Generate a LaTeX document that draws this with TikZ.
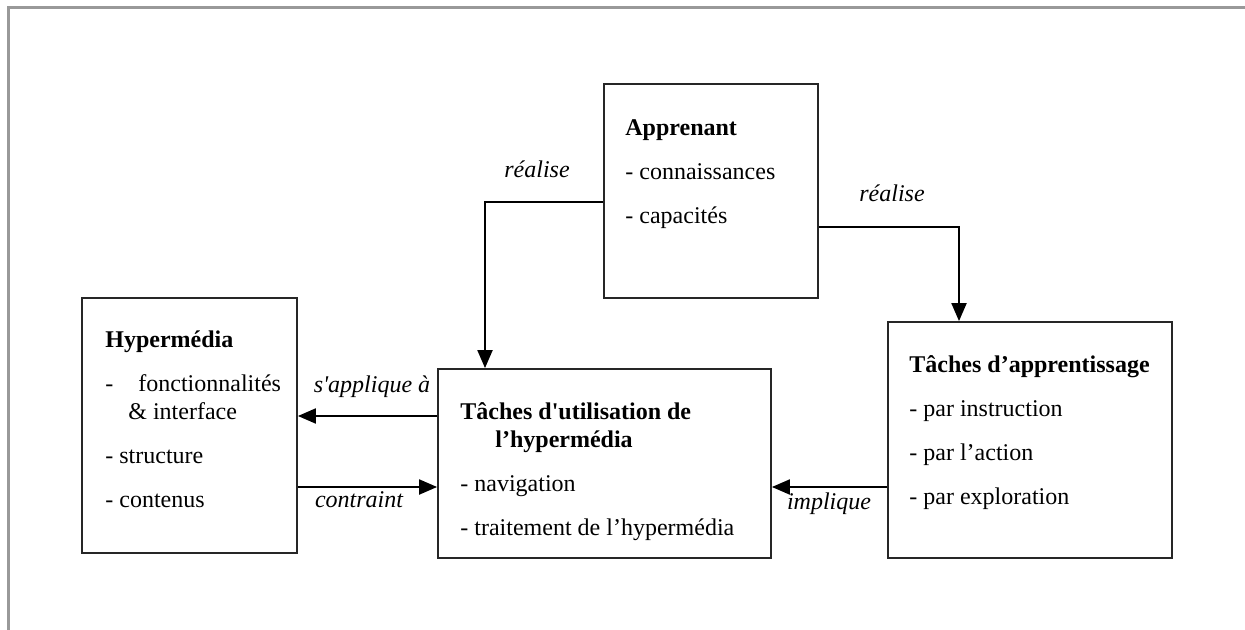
\documentclass[tikz,border=0pt]{standalone}
\usepackage{fontspec}
\setmainfont{Liberation Serif}
\usetikzlibrary{arrows.meta}

\tikzset{
	box/.style={draw=black!85, line width=0.9pt, inner sep=0pt},
	txt/.style={anchor=north west, inner sep=0pt, align=left, font=\fontsize{12}{22}\selectfont},
	lbl/.style={anchor=base, inner sep=0pt, font=\fontsize{12}{14}\selectfont\itshape},
	arr/.style={line width=1pt, -{Triangle[length=9pt,width=7.5pt]}},
}

\begin{document}
\begin{tikzpicture}[x=0.5pt, y=-0.5pt]
	% frame
	\useasboundingbox (0,0) rectangle (1245,630);
	\draw[black!40, line width=1.5pt] (8,630) -- (8,8) -- (1245,8);
	
	% boxes
	\node[box, minimum width=107.5pt, minimum height=127.5pt] (hyp) at (189.5,425.5) {};
	\node[box, minimum width=166.5pt, minimum height=94.5pt] (util) at (604.5,463.5) {};
	\node[box, minimum width=107pt, minimum height=107pt] (appr) at (711,191) {};
	\node[box, minimum width=142pt, minimum height=118pt] (tach) at (1030,440) {};
	
	% box texts
	\node[txt] (hyptxt) at (105,330) {\textbf{Hypermédia}\\
		-\hspace{12.5pt}fonctionnalités\\[-8pt]
		\hspace{11.5pt}\& interface\\
		- structure\\
		- contenus};
	\node[txt] (utiltxt) at (460,402) {\textbf{Tâches d\textquotesingle utilisation de}\\[-8pt]
		\hspace{17.5pt}\textbf{l’hypermédia}\\
		- navigation\\
		- traitement de l’hypermédia};
	\node[txt] (apprtxt) at (625,119) {\textbf{Apprenant}\\
		- connaissances\\
		- capacités};
	\node[txt] (tachtxt) at (909,355) {\textbf{Tâches d’apprentissage}\\
		- par instruction\\
		- par l’action\\
		- par exploration};
	
	% connectors
	\coordinate (sa) at ([yshift=23.75pt]util.west);
	\coordinate (co) at ([yshift=-30.75pt]hyp.east);
	\coordinate (im) at ([yshift=-23.5pt]tach.west);
	\draw[arr] ([yshift=-5.5pt]appr.west) -| ([xshift=-59.75pt]util.north);
	\draw[arr] ([yshift=-18pt]appr.east) -| ([xshift=-35.5pt]tach.north);
	\draw[arr] (sa) -- (sa -| hyp.east);
	\draw[arr] (co) -- (co -| util.west);
	\draw[arr] (im) -- (im -| util.east);
	
	% labels
	\node[lbl] (realise1) at (537,178) {réalise};
	\node[lbl] (realise2) at (892,202) {réalise};
	\node[lbl] (applique) at (372,392) {s\textquotesingle applique à};
	\node[lbl] (contraint) at (359,507) {contraint};
	\node[lbl] (implique) at (829,509) {implique};
\end{tikzpicture}
\end{document}
